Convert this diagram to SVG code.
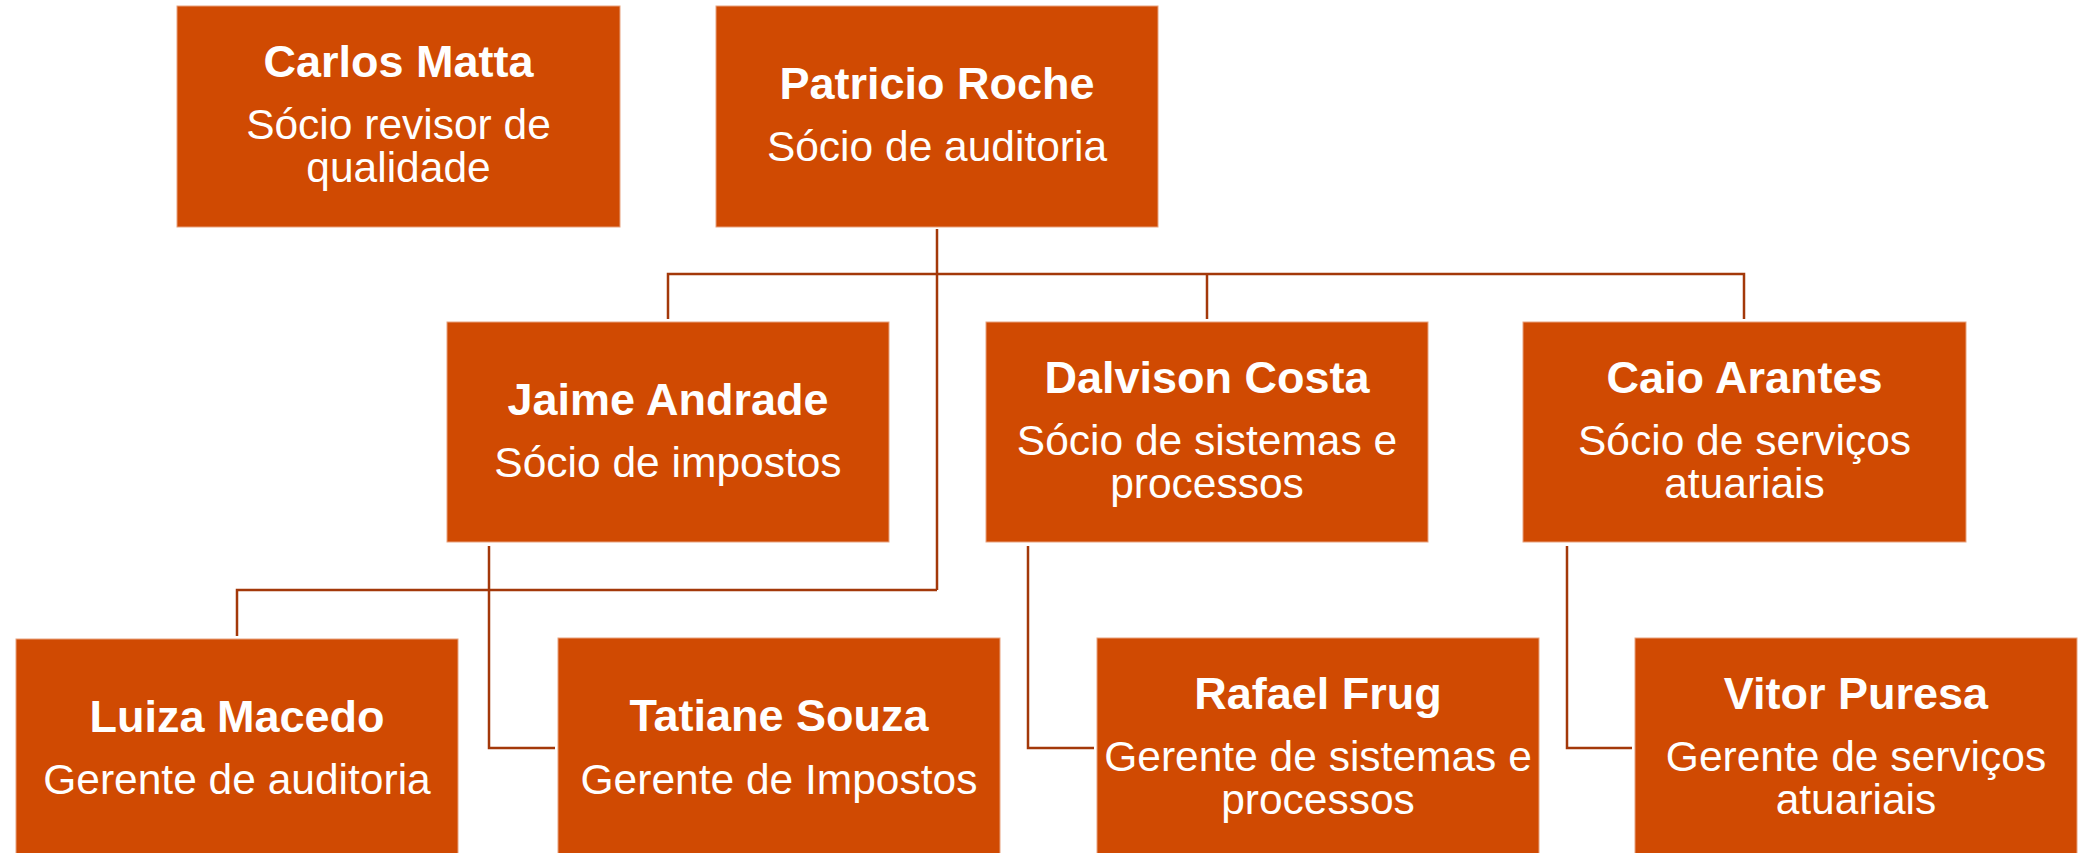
<svg xmlns="http://www.w3.org/2000/svg" width="2080" height="853" viewBox="0 0 2080 853">
<style>
.box{fill:#D04A02;stroke:#E8A27E;stroke-width:1}
.n{font-family:"Liberation Sans",Arial,sans-serif;font-weight:bold;font-size:45px;fill:#FFFFFF;text-anchor:middle}
.t{font-family:"Liberation Sans",Arial,sans-serif;font-size:42.5px;fill:#FFFFFF;text-anchor:middle}
.c{fill:none;stroke:#A3380A;stroke-width:2.5}
</style>
<rect width="2080" height="853" fill="#FFFFFF"/>
<g id="connectors">
<path class="c" d="M937 229 V590"/>
<path class="c" d="M668 319 V274 H1744 V319"/>
<path class="c" d="M1207 274 V319"/>
<path class="c" d="M237 636 V590 H937"/>
<path class="c" d="M489 546 V748 H555"/>
<path class="c" d="M1028 546 V748 H1094"/>
<path class="c" d="M1567 546 V748 H1632"/>
</g>
<g id="carlos-matta">
<rect class="box" x="177" y="6" width="443" height="221"/>
<text class="n" x="398.5" y="77">Carlos Matta</text>
<text class="t" x="398.5" y="139">Sócio revisor de</text>
<text class="t" x="398.5" y="182">qualidade</text>
</g>
<g id="patricio-roche">
<rect class="box" x="716" y="6" width="442" height="221"/>
<text class="n" x="937" y="99">Patricio Roche</text>
<text class="t" x="937" y="161">Sócio de auditoria</text>
</g>
<g id="jaime-andrade">
<rect class="box" x="447" y="322" width="442" height="220"/>
<text class="n" x="668" y="415">Jaime Andrade</text>
<text class="t" x="668" y="477">Sócio de impostos</text>
</g>
<g id="dalvison-costa">
<rect class="box" x="986" y="322" width="442" height="220"/>
<text class="n" x="1207" y="393">Dalvison Costa</text>
<text class="t" x="1207" y="455">Sócio de sistemas e</text>
<text class="t" x="1207" y="498">processos</text>
</g>
<g id="caio-arantes">
<rect class="box" x="1523" y="322" width="443" height="220"/>
<text class="n" x="1744.5" y="393">Caio Arantes</text>
<text class="t" x="1744.5" y="455">Sócio de serviços</text>
<text class="t" x="1744.5" y="498">atuariais</text>
</g>
<g id="luiza-macedo">
<rect class="box" x="16" y="639" width="442" height="230"/>
<text class="n" x="237" y="732">Luiza Macedo</text>
<text class="t" x="237" y="794">Gerente de auditoria</text>
</g>
<g id="tatiane-souza">
<rect class="box" x="558" y="638" width="442" height="230"/>
<text class="n" x="779" y="731">Tatiane Souza</text>
<text class="t" x="779" y="794">Gerente de Impostos</text>
</g>
<g id="rafael-frug">
<rect class="box" x="1097" y="638" width="442" height="230"/>
<text class="n" x="1318" y="709">Rafael Frug</text>
<text class="t" x="1318" y="771">Gerente de sistemas e</text>
<text class="t" x="1318" y="814">processos</text>
</g>
<g id="vitor-puresa">
<rect class="box" x="1635" y="638" width="442" height="230"/>
<text class="n" x="1856" y="709">Vitor Puresa</text>
<text class="t" x="1856" y="771">Gerente de serviços</text>
<text class="t" x="1856" y="814">atuariais</text>
</g>
</svg>
